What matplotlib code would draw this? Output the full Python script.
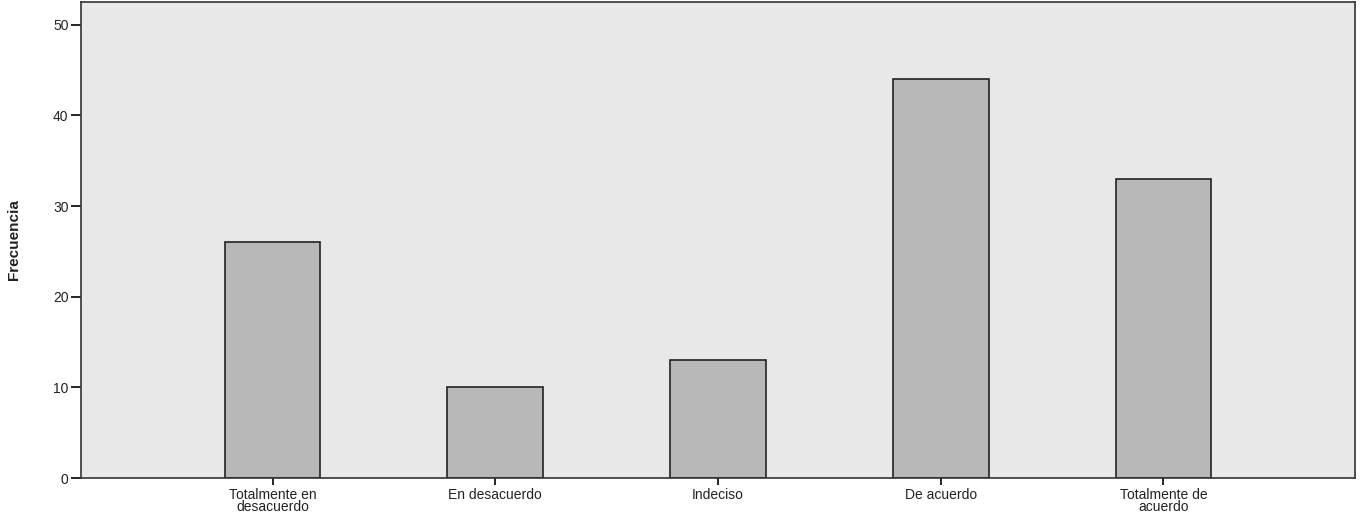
import matplotlib
matplotlib.use("Agg")
import matplotlib.pyplot as plt

categories = ["Totalmente en\ndesacuerdo", "En desacuerdo", "Indeciso", "De acuerdo", "Totalmente de\nacuerdo"]
frecuencia = [26, 10, 13, 44, 33]
yticks = [0, 10, 20, 30, 40, 50]

plt.rcParams['font.family'] = ['Liberation Sans', 'DejaVu Sans']

fig = plt.figure(figsize=(13.63, 5.16), dpi=100)
ax = fig.add_axes([0.0594, 0.0736, 0.9347, 0.9224])
ax.set_facecolor('#e8e8e8')

x = list(range(len(categories)))
ax.bar(x, frecuencia, width=0.43, color='#b8b8b8', edgecolor='#222222', linewidth=1.2, zorder=2)

ax.set_xlim(-0.86, 4.86)
ax.set_ylim(0, 52.5)
ax.set_yticks(yticks)
ax.set_xticks(x)
ax.set_xticklabels(categories, fontsize=10, linespacing=0.8, color='#222222')
ax.tick_params(axis='y', direction='out', length=7, width=1.2, labelsize=10, pad=2, labelcolor='#222222')
ax.tick_params(axis='x', direction='out', length=5, width=1.2, pad=2)
for s in ax.spines.values():
    s.set_color('#333333')
    s.set_linewidth(1.2)

ax.set_ylabel("Frecuencia", fontsize=11, fontweight='bold', labelpad=23, color='#222222')

fig.savefig("out.png", dpi=100)
